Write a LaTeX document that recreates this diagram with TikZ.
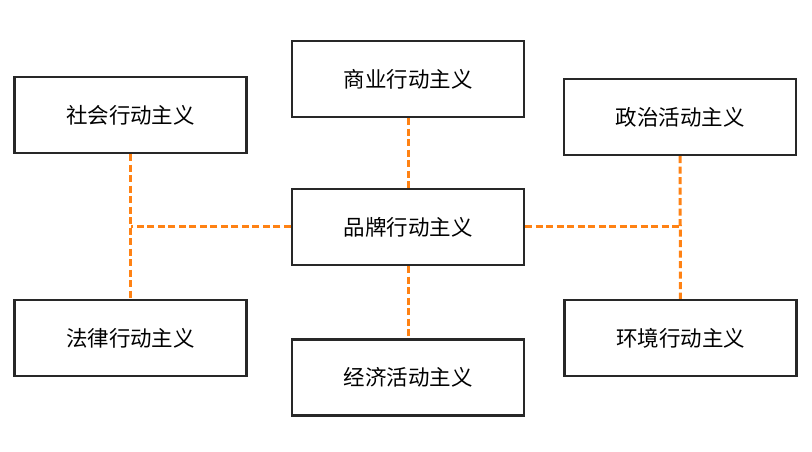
\documentclass[tikz,border=0pt]{standalone}
\usepackage{fontspec}
\newfontfamily\cjk{Noto Sans CJK SC}
\definecolor{dashorange}{RGB}{255,130,20}
\definecolor{boxgray}{RGB}{40,40,40}
\begin{document}
\begin{tikzpicture}[x=1pt, y=1pt,
  item/.style={draw=boxgray, line width=2.4pt, minimum width=232pt, minimum height=76pt, inner sep=0pt, font=\cjk\fontsize{21.5}{26}\selectfont},
  link/.style={draw=dashorange, line width=3pt, dash pattern=on 7pt off 3.5pt}]
\useasboundingbox (0,0) rectangle (812,452);

\node[item] (shangye) at (408,373) {商业行动主义};
\node[item] (shehui) at (130.5,337) {社会行动主义};
\node[item] (zhengzhi) at (680,335) {政治活动主义};
\node[item] (pinpai) at (408,225) {品牌行动主义};
\node[item] (falv) at (130.5,114) {法律行动主义};
\node[item] (jingji) at (408,74.5) {经济活动主义};
\node[item] (huanjing) at (680.5,114) {环境行动主义};

\coordinate (leftjoin) at (shehui.south |- pinpai.west);
\coordinate (rightjoin) at (zhengzhi.south |- pinpai.east);

\draw[link] (shangye) -- (pinpai);
\draw[link] (pinpai) -- (jingji);
\draw[link] (shehui) -- (falv);
\draw[link] (pinpai.west) -- (leftjoin);
\draw[link] (zhengzhi) -- (huanjing);
\draw[link] (pinpai.east) -- (rightjoin);
\end{tikzpicture}
\end{document}
